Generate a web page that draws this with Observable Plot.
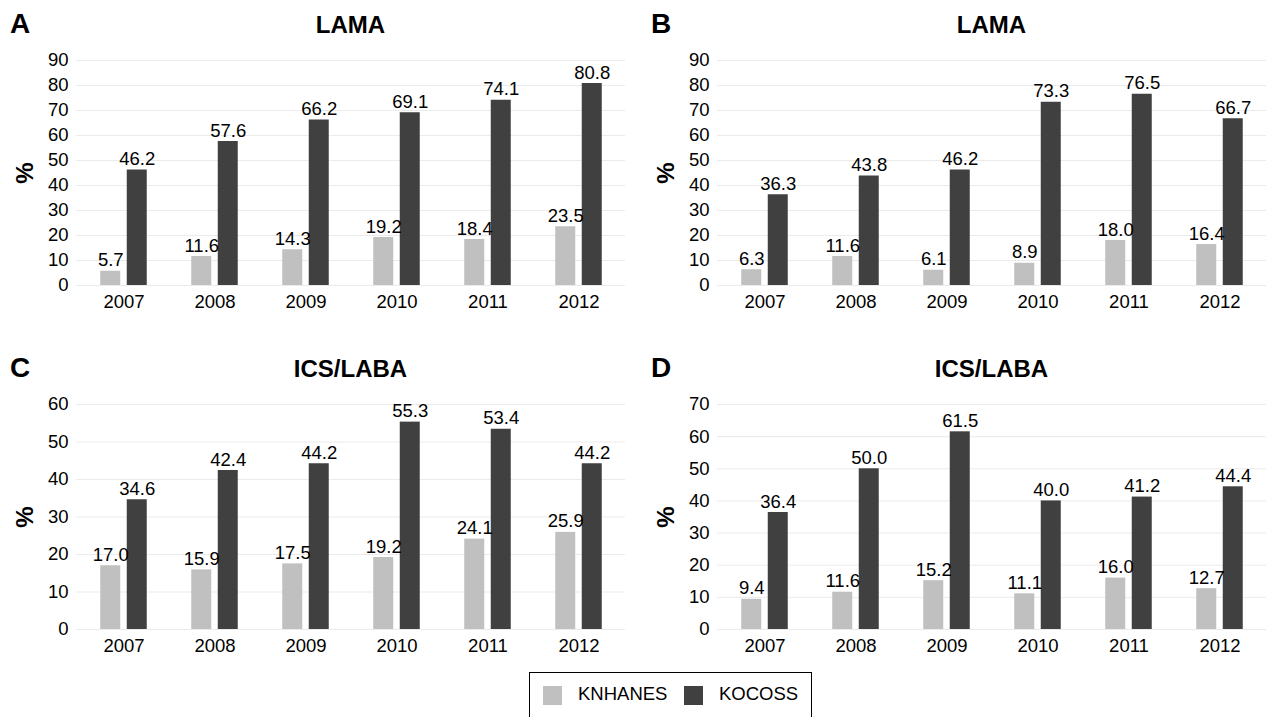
<!DOCTYPE html>
<html><head><meta charset="utf-8">
<script src="https://cdn.jsdelivr.net/npm/d3@7"></script>
<script src="https://cdn.jsdelivr.net/npm/@observablehq/plot@0.6"></script>
<style>
body{margin:0;background:#fff;font-family:"Liberation Sans",Arial,sans-serif;color:#000;}
#root{position:relative;width:1266px;height:717px;overflow:hidden;}
.panel{position:absolute;width:625px;height:344px;}
.panel svg{position:absolute;left:0;top:0;}
.letter{position:absolute;left:10px;top:10px;font-weight:bold;font-size:28px;line-height:1;}
.title{position:absolute;left:76px;width:549px;top:13px;text-align:center;font-weight:bold;font-size:24px;line-height:1;}
.ylab{position:absolute;left:25px;top:172.5px;transform:translate(-50%,-50%) rotate(-90deg);font-weight:bold;font-size:24px;line-height:1;}
#legend{position:absolute;left:529px;top:672px;width:283px;height:60px;border:1px solid #000;box-sizing:border-box;}
.sw{position:absolute;width:19px;height:19px;top:13px;}
.lt{position:absolute;top:12px;font-size:18.5px;line-height:1;}
</style>
</head><body>
<div id="root"></div>
<script>
const years = ["2007","2008","2009","2010","2011","2012"];
const seriesNames = ["KNHANES","KOCOSS"];
const seriesColors = ["#c0c0c0","#404040"];

const panelLetters = ["A","B","C","D"];
const panelTitles = ["LAMA","LAMA","ICS/LABA","ICS/LABA"];
const panelYMax = [90,90,60,70];

const a_KNHANES = [5.7,11.6,14.3,19.2,18.4,23.5];
const a_KOCOSS  = [46.2,57.6,66.2,69.1,74.1,80.8];
const b_KNHANES = [6.3,11.6,6.1,8.9,18.0,16.4];
const b_KOCOSS  = [36.3,43.8,46.2,73.3,76.5,66.7];
const c_KNHANES = [17.0,15.9,17.5,19.2,24.1,25.9];
const c_KOCOSS  = [34.6,42.4,44.2,55.3,53.4,44.2];
const d_KNHANES = [9.4,11.6,15.2,11.1,16.0,12.7];
const d_KOCOSS  = [36.4,50.0,61.5,40.0,41.2,44.4];

const panelSeries = [
  [a_KNHANES, a_KOCOSS],
  [b_KNHANES, b_KOCOSS],
  [c_KNHANES, c_KOCOSS],
  [d_KNHANES, d_KOCOSS]
];

const root = document.getElementById("root");
const W = 625, H = 330;
const mL = 76, mR = 0, mT = 60, mB = 45;
const half = (W - mL - mR) / years.length / 2;
const barOuter = 23.5, barInner = 3;
const fs = 18.5;

panelLetters.forEach((letter, i) => {
  const col = i % 2, row = Math.floor(i / 2);
  const div = document.createElement("div");
  div.className = "panel";
  div.style.left = (col * 641) + "px";
  div.style.top = (row * 344) + "px";
  root.appendChild(div);

  const rows = [];
  seriesNames.forEach((s, k) => {
    panelSeries[i][k].forEach((v, j) => rows.push({year: years[j], series: s, value: v}));
  });
  const light = rows.filter(d => d.series === seriesNames[0]);
  const dark = rows.filter(d => d.series === seriesNames[1]);
  const ymax = panelYMax[i];

  const chart = Plot.plot({
    width: W, height: H,
    marginLeft: mL, marginRight: mR, marginTop: mT, marginBottom: mB,
    style: {fontFamily: '"Liberation Sans", Arial, sans-serif', fontSize: fs + "px", color: "#000", background: "transparent"},
    x: {type: "band", domain: years, padding: 0, label: null},
    y: {domain: [0, ymax], label: null},
    marks: [
      Plot.gridY(d3.range(0, ymax + 1, 10), {stroke: "#ebebeb", strokeOpacity: 1, strokeWidth: 1}),
      Plot.barY(light, {x: "year", y: "value", fill: seriesColors[0], insetLeft: half - barOuter, insetRight: half + barInner}),
      Plot.barY(dark, {x: "year", y: "value", fill: seriesColors[1], insetLeft: half + barInner, insetRight: half - barOuter}),
      Plot.text(light, {x: "year", y: "value", text: d => d.value.toFixed(1), dx: -(barInner + barOuter) / 2, dy: -5, lineAnchor: "bottom", fill: "#000", fontSize: fs}),
      Plot.text(dark, {x: "year", y: "value", text: d => d.value.toFixed(1), dx: (barInner + barOuter) / 2, dy: -5, lineAnchor: "bottom", fill: "#000", fontSize: fs}),
      Plot.axisY({ticks: d3.range(0, ymax + 1, 10), tickSize: 0, tickPadding: 8, label: null, fontSize: fs}),
      Plot.axisX({tickSize: 0, tickPadding: 9, label: null, fontSize: fs})
    ]
  });
  div.appendChild(chart);

  const l = document.createElement("div"); l.className = "letter"; l.textContent = letter; div.appendChild(l);
  const t = document.createElement("div"); t.className = "title"; t.textContent = panelTitles[i]; div.appendChild(t);
  const y = document.createElement("div"); y.className = "ylab"; y.textContent = "%"; div.appendChild(y);
});

const legend = document.createElement("div");
legend.id = "legend";
const swX = [13, 154], txtX = [48, 189];
seriesNames.forEach((s, k) => {
  const sw = document.createElement("div"); sw.className = "sw";
  sw.style.left = swX[k] + "px"; sw.style.background = seriesColors[k];
  legend.appendChild(sw);
  const tx = document.createElement("div"); tx.className = "lt";
  tx.style.left = txtX[k] + "px"; tx.textContent = s;
  legend.appendChild(tx);
});
root.appendChild(legend);
</script>
</body></html>
